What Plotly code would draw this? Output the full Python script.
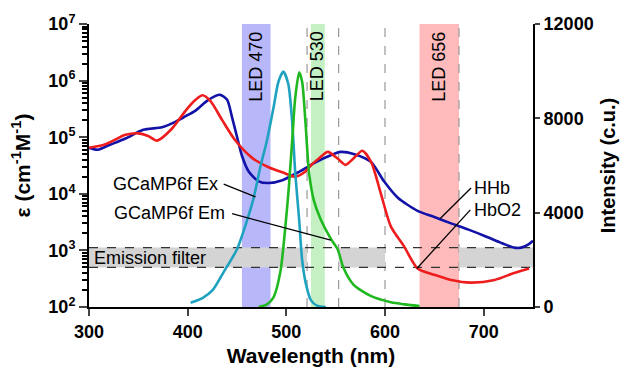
import plotly.graph_objects as go
import numpy as np

# ---- data ----
hhb_wl = [300, 309, 320, 337, 355, 374, 387, 397, 408, 421, 433, 440, 445, 450, 455, 462, 472, 482, 496, 513, 530, 545, 555, 569, 586, 599, 613, 633, 650, 667, 684, 701, 716, 731, 738, 745, 750]
hhb_eps = [65000, 60000, 72000, 95000, 135000, 150000, 185000, 230000, 295000, 457000, 560000, 457000, 224000, 102000, 47000, 24500, 16600, 15500, 17400, 24500, 36300, 48000, 55000, 50000, 36300, 16600, 8500, 5000, 3900, 3000, 2350, 1800, 1400, 1120, 1120, 1260, 1480]

hbo2_wl = [300, 316, 337, 350, 360, 369, 384, 398, 408, 415, 423, 435, 448, 465, 482, 499, 509, 519, 525, 533, 542, 552, 560, 568, 577, 586, 596, 606, 619, 633, 650, 667, 687, 711, 731, 746]
hbo2_eps = [65000, 74000, 110000, 117000, 105000, 87000, 141000, 295000, 457000, 550000, 437000, 200000, 89000, 43600, 29500, 22900, 20000, 24500, 32000, 42000, 55000, 42000, 32400, 42000, 57500, 36300, 9800, 2630, 1200, 480, 370, 300, 270, 300, 400, 480]

ex_wl = [403, 415, 425, 436, 450, 460, 467, 474, 480, 487, 492, 497, 502, 506, 509, 513, 516, 520, 525, 531, 540]
ex_int = [180, 380, 700, 1450, 2450, 3650, 4650, 6000, 7000, 8450, 9550, 9980, 9450, 7800, 5700, 3700, 2000, 950, 280, 60, 0]

em_wl = [472, 480, 487, 494, 499, 502.5, 506, 509, 513, 516, 519.5, 523, 528, 535, 545, 552, 558, 568, 585, 606, 620, 635]
em_int = [0, 100, 410, 1500, 3400, 5050, 7100, 8860, 9950, 9550, 7770, 5700, 4500, 3700, 2900, 2450, 1650, 950, 480, 200, 110, 40]

led_names = ["LED 470", "LED 530", "LED 656"]
led_lo = [455, 525, 635]
led_hi = [484, 539, 675]
led_colors = ["rgba(175,175,250,0.9)", "rgba(190,238,190,0.9)", "rgba(255,180,180,0.9)"]

filter_lo = [300, 553, 675]
filter_hi = [521, 600, 750]
filter_eps = [500, 1120]
dashed_wl = [521, 553, 600, 675]

x_ticks = [300, 400, 500, 600, 700]
y_exps = [2, 3, 4, 5, 6, 7]
y2_ticks = [0, 4000, 8000, 12000]
y2_labels = ["0", "4000", "8000", "12000"]

FONT = "Liberation Sans, Arial, sans-serif"

fig = go.Figure()

def tr(x, y, color, axis):
    fig.add_trace(go.Scatter(x=x, y=y, mode="lines", yaxis=axis,
                             line=dict(color=color, width=2.6, shape="spline", smoothing=0.7),
                             showlegend=False, hoverinfo="skip"))

tr(ex_wl, ex_int, "#1ea2bf", "y2")
tr(em_wl, em_int, "#1fb81f", "y2")
tr(hhb_wl, hhb_eps, "#1212a8", "y")
tr(hbo2_wl, hbo2_eps, "#ee1c1c", "y")

shapes = []
for lo, hi, c in zip(led_lo, led_hi, led_colors):
    shapes.append(dict(type="rect", xref="x", yref="paper", x0=lo, x1=hi, y0=0, y1=1,
                       fillcolor=c, line=dict(width=0), layer="below"))
for lo, hi in zip(filter_lo, filter_hi):
    shapes.append(dict(type="rect", xref="x", yref="y", x0=lo, x1=hi, y0=filter_eps[0], y1=filter_eps[1],
                       fillcolor="#d4d4d4", line=dict(width=0), layer="below"))
for e in filter_eps:
    shapes.append(dict(type="line", xref="x", yref="y", x0=300, x1=750, y0=e, y1=e,
                       line=dict(color="#333333", width=1.3, dash="dash"), layer="below"))
for w in dashed_wl:
    shapes.append(dict(type="line", xref="x", yref="paper", x0=w, x1=w, y0=0, y1=1,
                       line=dict(color="#999999", width=1.2, dash="dash"), layer="below"))

# annotation leader lines (wavelength, epsilon)
leaders = [((436.5, 14800), (468.7, 8800)),
           ((445.0, 4450), (545.0, 1520)),
           ((687.2, 12700), (656.0, 3660)),
           ((686.5, 5200), (632.3, 480))]
for (x0, y0), (x1, y1) in leaders:
    shapes.append(dict(type="line", xref="x", yref="y", x0=x0, x1=x1, y0=y0, y1=y1,
                       line=dict(color="black", width=1.3)))

annotations = []
labels = [("GCaMP6f Ex", 433, 14800, "right"),
          ("GCaMP6f Em", 440, 4550, "right"),
          ("HHb", 688, 12700, "left"),
          ("HbO2", 688, 5200, "left"),
          ("Emission filter", 303, 740, "left")]
for t, x, y, xa in labels:
    annotations.append(dict(text=t, x=x, y=np.log10(y), xref="x", yref="y", xanchor=xa, yanchor="middle",
                            showarrow=False, font=dict(family=FONT, size=18, color="black")))
for name, lo, hi in zip(led_names, led_lo, led_hi):
    annotations.append(dict(text=name, x=(lo + hi) / 2, y=0.85, xref="x", yref="paper",
                            xanchor="center", yanchor="middle", textangle=-90, showarrow=False,
                            font=dict(family=FONT, size=18, color="black")))

minor_vals = [d * 10 ** e for e in y_exps[:-1] for d in range(2, 10)]

fig.update_layout(
    width=633, height=390,
    margin=dict(l=89, r=100, t=13, b=83),
    paper_bgcolor="white", plot_bgcolor="white",
    font=dict(family=FONT, color="black"),
    shapes=shapes, annotations=annotations,
    xaxis=dict(range=[300, 750], tickvals=x_ticks, ticks="outside", ticklen=7, tickwidth=2,
               showline=True, linecolor="black", linewidth=2, showgrid=False, zeroline=False,
               tickfont=dict(family=FONT, size=18, color="black", weight="bold"),
               title=dict(text="<b>Wavelength (nm)</b>", font=dict(family=FONT, size=21), standoff=8)),
    yaxis=dict(type="log", range=[2, 7], tickvals=[10 ** e for e in y_exps],
               ticktext=["<b>10<sup>%d</sup></b>" % e for e in y_exps],
               ticks="outside", ticklen=8, tickwidth=2, showline=True, linecolor="black", linewidth=2,
               showgrid=False, zeroline=False,
               minor=dict(ticks="outside", ticklen=5, tickwidth=1.5, tickcolor="black",
                          tickvals=minor_vals, showgrid=False),
               tickfont=dict(family=FONT, size=18, color="black"),
               title=dict(text="<b>ε (cm<sup>-1</sup>M<sup>-1</sup>)</b>", font=dict(family=FONT, size=21), standoff=12)),
    yaxis2=dict(overlaying="y", side="right", range=[0, 12000], tickvals=y2_ticks, ticktext=y2_labels,
                ticks="outside", ticklen=5, tickwidth=2, showline=True, linecolor="black", linewidth=2,
                showgrid=False, zeroline=False,
                tickfont=dict(family=FONT, size=18, color="black", weight="bold"),
                title=dict(text="<b>Intensity (c.u.)</b>", font=dict(family=FONT, size=20), standoff=8)),
)

fig.write_html("out.html")
